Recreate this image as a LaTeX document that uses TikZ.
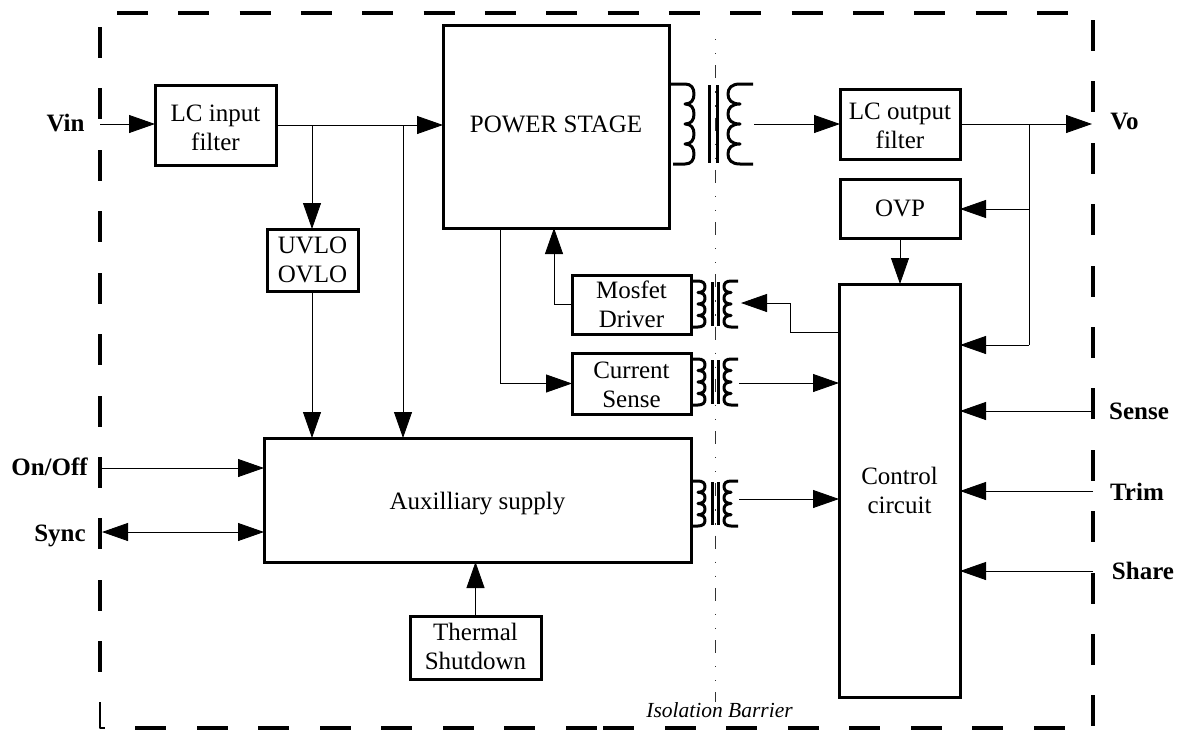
\documentclass[tikz,border=0pt]{standalone}
\usepackage{fontspec}
\setmainfont{Liberation Serif}
\usetikzlibrary{arrows.meta,calc}
\tikzset{
  boxnode/.style={draw=black,line width=3pt,fill=none,inner sep=0pt,outer sep=0pt,align=center,font=\fontsize{25}{29}\selectfont},
  lab/.style={inner sep=0pt,font=\fontsize{25}{29}\selectfont\bfseries},
  wire/.style={draw=black,line width=0.85pt},
  arr/.style={wire,-{Triangle[length=26pt,width=18pt]}},
  biarr/.style={wire,{Triangle[length=26pt,width=18pt]}-{Triangle[length=26pt,width=18pt]}},
  coilline/.style={line width=3pt,line join=round},
  corebar/.style={line width=3pt},
  dashedge/.style={line width=4pt},
  barrier/.style={line width=1pt,draw=black!80,dash pattern=on 13pt off 13pt on 1.4pt off 12.6pt on 1.4pt off 10.85pt,dash phase=22pt}
}
\newcommand\dn[2]{\raisebox{-#1pt}[\height][\depth]{#2}}
% #1 peak x, #2 indent x, #3 top y, #4 bottom y, #5 top lead x, #6 bottom lead x
\newcommand\coilat[6]{%
  \pgfmathsetmacro\hh{(#4-#3)/4}%
  \pgfmathsetmacro\dd{#1-#2}%
  \draw[coilline] (#5,#3) -- (#2,#3)
    foreach \i in {0,1,2,3}{
      .. controls ({#2+.7*\dd},{#3+\i*\hh}) and ({#1},{#3+(\i+.2)*\hh}) .. ({#1},{#3+(\i+.5)*\hh})
      .. controls ({#1},{#3+(\i+.8)*\hh}) and ({#2+.7*\dd},{#3+(\i+1)*\hh}) .. ({#2},{#3+(\i+1)*\hh})
    } -- (#6,#4);}
\begin{document}
\begin{tikzpicture}[x=1pt,y=-1pt]
\useasboundingbox (0,0) rectangle (1183,731);
% outer dashed frame
\foreach \k in {0,...,15}{\draw[dashedge] ({117+61.33*\k},13) -- ({148+61.33*\k},13);}
\foreach \a in {135,197,258,320,381,443,504,566,603,665,726,788,849,911,972,1034}{\draw[dashedge] (\a,728) -- (\a+31,728);}
\foreach \a in {27,88,150,211,273,334,396,457,518,580,641}{\draw[dashedge] (100,\a) -- (100,\a+31);}
\draw[line width=2.6pt,line join=round] (100,702) -- (100,728) -- (105,728);
\foreach \a in {20,81,143,204,266,327,388,450,511,573,634,695}{\draw[dashedge] (1093,\a) -- (1093,\a+31);}
% isolation barrier
\draw[barrier] (715,35) -- (715,702);
\node[inner sep=0pt,font=\fontsize{21.5}{24}\selectfont\itshape] (isol) at (719.5,710) {Isolation Barrier};
% boxes
\node[boxnode,minimum width=121pt,minimum height=80pt] (lcin) at (215.5,125) {\dn{3}{LC input}\\\dn{3}{filter}};
\node[boxnode,minimum width=226pt,minimum height=203pt] (power) at (556,126.5) {\dn{-2}{POWER STAGE}};
\node[boxnode,minimum width=120pt,minimum height=70pt] (lcout) at (900,124) {\dn{2}{LC output}\\\dn{2}{filter}};
\node[boxnode,minimum width=120pt,minimum height=59pt] (ovp) at (900,208.5) {OVP};
\node[boxnode,minimum width=91pt,minimum height=62pt] (uvlo) at (312.5,260) {UVLO\\OVLO};
\node[boxnode,minimum width=119pt,minimum height=59pt] (mos) at (631.5,304.5) {Mosfet\\Driver};
\node[boxnode,minimum width=119pt,minimum height=61pt] (cur) at (631.5,383.5) {\dn{1}{Current}\\\dn{1}{Sense}};
\node[boxnode,minimum width=427pt,minimum height=124pt] (aux) at (477.5,500) {\dn{4}{Auxilliary supply}};
\node[boxnode,minimum width=131pt,minimum height=63pt] (therm) at (475.5,647.5) {\dn{-1}{Thermal}\\\dn{-1}{Shutdown}};
\node[boxnode,minimum width=121pt,minimum height=413pt] (ctrl) at (899.5,490.5) {Control\\circuit};
% labels
\node[lab] (vin) at (65.5,123) {Vin};
\node[lab] (vo) at (1124.5,122) {Vo};
\node[lab] (sense) at (1139,411) {Sense};
\node[lab] (trim) at (1137,492) {Trim};
\node[lab] (share) at (1143,571) {Share};
\node[lab] (onoff) at (49.5,467) {On/Off};
\node[lab] (sync) at (60,536) {Sync};
% transformers
\coilat{694}{685}{84}{164}{669}{673}
\coilat{728}{740}{84}{164}{753}{753}
\draw[corebar] (709,85) -- (709,163) (717,85) -- (717,163);
\coilat{705}{698}{281}{327}{691}{691}
\coilat{724}{731}{281}{327}{738}{738}
\draw[corebar] (712,282) -- (712,326) (718,282) -- (718,326);
\coilat{705}{698}{359}{405}{691}{691}
\coilat{724}{731}{359}{405}{738}{738}
\draw[corebar] (712,360) -- (712,404) (718,360) -- (718,404);
\coilat{705}{698}{481}{526}{691}{691}
\coilat{724}{731}{481}{526}{738}{738}
\draw[corebar] (712,482) -- (712,525) (718,482) -- (718,525);
% free ends and junctions
\coordinate (vinfree) at (100,124);
\coordinate (jin1) at (312,125);
\coordinate (jin2) at (403,125);
\coordinate (bigout) at (754,124);
\coordinate (vofree) at (1092,124);
\coordinate (jo) at (1029,124);
\coordinate (jovp) at (1029,209);
\coordinate (jctl) at (1029,345);
\coordinate (mosfree) at (741,303);
\coordinate (curout) at (739,383);
\coordinate (auxout) at (739,499);
\coordinate (sensefree) at (1091,411);
\coordinate (trimfree) at (1093,491);
\coordinate (sharefree) at (1093,571);
\coordinate (onfree) at (101,468);
\coordinate (syncfree) at (102,532);
% connectors
\draw[arr] (vinfree) -- (lcin.west |- vinfree);
\draw[arr] (lcin.east |- jin1) -- (power.west |- jin1);
\draw[arr] (jin1) -- (jin1 |- uvlo.north);
\draw[arr] (jin2) -- (jin2 |- aux.north);
\draw[arr] (jin1 |- uvlo.south) -- (jin1 |- aux.north);
\draw[arr] (power.south -| 500,0) |- (cur.west);
\draw[arr] (mos.west) -| (power.south -| 554,0);
\draw[arr] (bigout) -- (lcout.west |- bigout);
\draw[arr] (lcout.east |- vofree) -- (vofree);
\draw[wire] (jo) -- (jctl);
\draw[arr] (jovp) -- (ovp.east |- jovp);
\draw[arr] (jctl) -- (ctrl.east |- jctl);
\draw[arr] (ovp.south) -- (ovp.south |- ctrl.north);
\draw[arr] (ctrl.west |- 0,332) -| (790,303) -- (mosfree);
\draw[arr] (curout) -- (ctrl.west |- curout);
\draw[arr] (auxout) -- (ctrl.west |- auxout);
\draw[arr] (sensefree) -- (ctrl.east |- sensefree);
\draw[arr] (trimfree) -- (ctrl.east |- trimfree);
\draw[arr] (sharefree) -- (ctrl.east |- sharefree);
\draw[arr] (onfree) -- (aux.west |- onfree);
\draw[biarr] (syncfree) -- (aux.west |- syncfree);
\draw[arr] (therm.north) -- (therm.north |- aux.south);
\end{tikzpicture}
\end{document}
